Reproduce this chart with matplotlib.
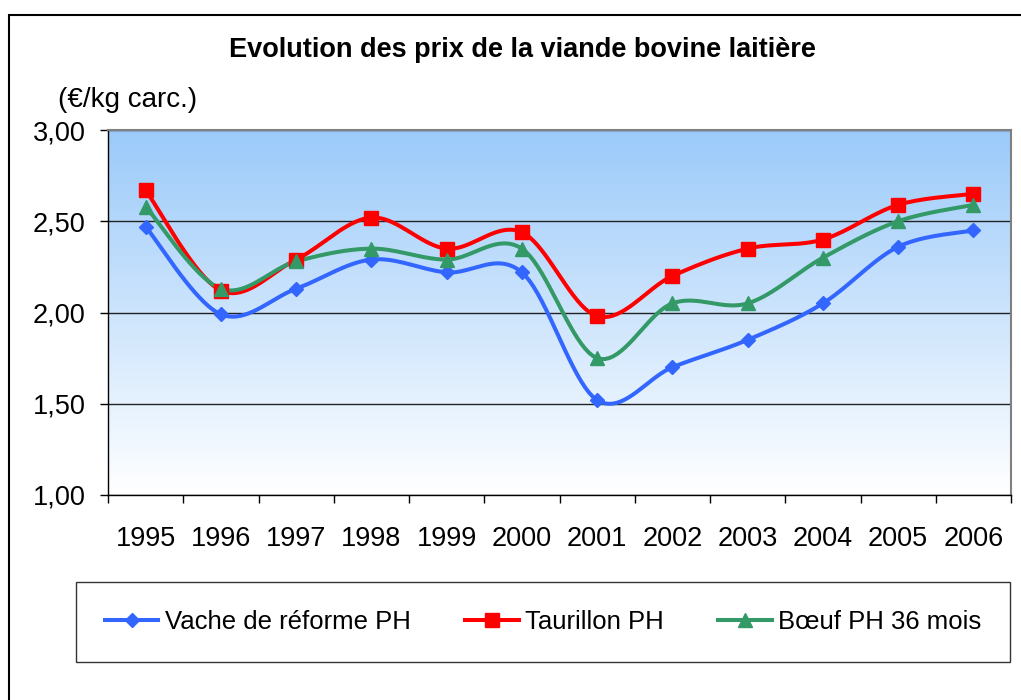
import numpy as np
import matplotlib
matplotlib.use('Agg')
import matplotlib.pyplot as plt
from matplotlib.patches import Rectangle

plt.rcParams['font.family'] = ['Liberation Sans', 'DejaVu Sans']

years = ['1995', '1996', '1997', '1998', '1999', '2000',
         '2001', '2002', '2003', '2004', '2005', '2006']
vache = [2.47, 1.99, 2.13, 2.29, 2.22, 2.22, 1.52, 1.70, 1.85, 2.05, 2.36, 2.45]
taurillon = [2.67, 2.12, 2.29, 2.52, 2.35, 2.44, 1.98, 2.20, 2.35, 2.40, 2.59, 2.65]
boeuf = [2.58, 2.13, 2.28, 2.35, 2.29, 2.35, 1.75, 2.05, 2.05, 2.30, 2.50, 2.59]

series = [
    ('Vache de réforme PH', vache, '#3366FF', 'D', 7),
    ('Taurillon PH', taurillon, '#FF0000', 's', 10),
    ('Bœuf PH 36 mois', boeuf, '#339966', '^', 10.5),
]


def smooth(x, y, n=20):
    # Bezier smoothing like the spreadsheet "smoothed line" option
    x = np.asarray(x, float)
    y = np.asarray(y, float)
    px = np.concatenate([[x[0]], x, [x[-1]]])
    py = np.concatenate([[y[0]], y, [y[-1]]])
    t = np.linspace(0, 1, n)[:, None]
    xs, ys = [], []
    for i in range(1, len(px) - 2):
        p0 = np.array([px[i], py[i]])
        p3 = np.array([px[i + 1], py[i + 1]])
        p1 = p0 + (p3 - np.array([px[i - 1], py[i - 1]])) / 6
        p2 = p3 - (np.array([px[i + 2], py[i + 2]]) - p0) / 6
        c = ((1 - t) ** 3) * p0 + 3 * ((1 - t) ** 2) * t * p1 + 3 * (1 - t) * t ** 2 * p2 + t ** 3 * p3
        xs.append(c[:, 0])
        ys.append(c[:, 1])
    return np.concatenate(xs), np.concatenate(ys)


def main():
    fig = plt.figure(figsize=(10.21, 7.00), dpi=100)
    ax = fig.add_axes([108 / 1021, 1 - 495 / 700, 903 / 1021, 365 / 700])

    # Outer chart frame
    fig.patches.append(Rectangle((9 / 1021, -0.1), 1.2, 0.1 + 1 - 15 / 700,
                                 transform=fig.transFigure, fill=False,
                                 edgecolor='black', linewidth=1.5))

    # Gradient background
    grad = np.linspace(0, 1, 256)[:, None]
    top = np.array([155, 202, 250]) / 255
    bottom = np.array([255, 255, 255]) / 255
    img = top * (1 - grad[..., None]) + bottom * grad[..., None]
    ax.imshow(img, extent=[0, 1, 0, 1], transform=ax.transAxes,
              aspect='auto', zorder=0)

    x = np.arange(len(years))
    for label, vals, color, marker, ms in series:
        sx, sy = smooth(x, vals)
        ax.plot(sx, sy, color=color, linewidth=2.9, zorder=3,
                solid_capstyle='round', solid_joinstyle='round')
        ax.plot(x, vals, linestyle='none', marker=marker, markersize=ms,
                color=color, zorder=4)
        ax.plot([], [], color=color, linewidth=2.9, marker=marker,
                markersize=ms, label=label)

    # Y axis
    ax.set_ylim(1, 3)
    ax.set_yticks([1.0, 1.5, 2.0, 2.5, 3.0])
    ax.set_yticklabels(['1,00', '1,50', '2,00', '2,50', '3,00'])
    ax.grid(axis='y', color='#222222', linewidth=1)
    ax.set_axisbelow(True)

    # X axis
    ax.set_xlim(-0.5, len(years) - 0.5)
    ax.set_xticks(np.arange(len(years) + 1) - 0.5)
    ax.set_xticklabels([])
    ax.set_xticks(x, minor=True)
    ax.set_xticklabels(years, minor=True)
    ax.tick_params(axis='x', which='minor', length=0, pad=22, labelsize=19.5)
    ax.tick_params(axis='x', which='major', length=6, width=1, direction='out')
    ax.tick_params(axis='y', length=6, width=1, pad=10, labelsize=19.5)

    for side in ['top', 'right']:
        ax.spines[side].set_color('#808080')
        ax.spines[side].set_linewidth(1.5)
    for side in ['left', 'bottom']:
        ax.spines[side].set_color('black')
        ax.spines[side].set_linewidth(1)

    fig.text(522 / 1021, 1 - 50 / 700, 'Evolution des prix de la viande bovine laitière',
             ha='center', va='center', fontsize=19.5, fontweight='bold')
    fig.text(58 / 1021, 1 - 100 / 700, '(€/kg carc.)', ha='left', va='center',
             fontsize=20)

    leg = fig.legend(loc='center', bbox_to_anchor=(543 / 1021, 1 - 622 / 700),
                     ncol=3, fontsize=18.5, frameon=True, fancybox=False,
                     edgecolor='black', handlelength=2.1, handletextpad=0.25,
                     columnspacing=2.1, borderpad=1.1)
    leg.get_frame().set_linewidth(1)

    fig.savefig('out.png', dpi=100)


if __name__ == '__main__':
    main()
